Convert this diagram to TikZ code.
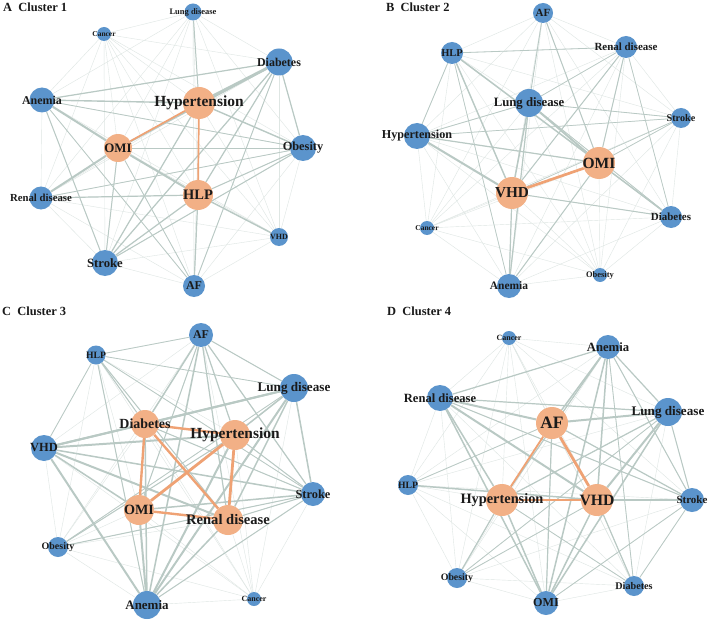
\documentclass[tikz,border=0pt]{standalone}
\usepackage{fontspec}
\setmainfont{Liberation Serif}
\pgfdeclarelayer{background}
\pgfsetlayers{background,main}
\definecolor{blu}{HTML}{5B94CC}
\definecolor{org}{HTML}{F2B086}
\definecolor{orge}{HTML}{EFA274}
\definecolor{edg}{HTML}{B9C9C4}
\definecolor{fnt}{HTML}{DEE6E3}
\definecolor{txt}{HTML}{1A1A1A}
\tikzset{
  dot/.style={circle, draw=none, inner sep=0pt},
  faint/.style={draw=fnt, line width=0.4pt},
  wedge/.style={draw=edg},
  oedge/.style={draw=orge},
  ttl/.style={font=\bfseries\fontsize{12.5}{13}\selectfont, text=txt, anchor=west, inner sep=0pt}
}
\newcommand\nd[7]{%
  \node[dot, fill=#5, minimum size=2*#4 bp] (#1) at (#2,#3) {};
  \node[font=\bfseries\fontsize{#6}{#6}\selectfont, text=txt, inner sep=0pt] at (#2,#3) {#7};}
\newcommand\allpairs[1]{%
  \foreach \u [count=\i] in {#1}{\foreach \v [count=\j] in {#1}{\ifnum\j>\i \draw[faint] (\u)--(\v);\fi}}}
\begin{document}
\begin{tikzpicture}[x=1bp,y=-1bp]
\useasboundingbox (0,0) rectangle (709,622);
% titles
\node[ttl] (tA) at (3,7) {A\ \ Cluster 1};
\node[ttl] (tB) at (386,7) {B\ \ Cluster 2};
\node[ttl] (tC) at (2,311) {C\ \ Cluster 3};
\node[ttl] (tD) at (387,311) {D\ \ Cluster 4};
% ---------------- Panel A
\nd{aLung}{193}{12}{8.5}{blu}{8.5}{Lung disease}
\nd{aCan}{104}{34}{7}{blu}{7.5}{Cancer}
\nd{aDia}{279}{62}{13.5}{blu}{12}{Diabetes}
\nd{aAne}{42}{100}{12.5}{blu}{12}{Anemia}
\nd{aHyp}{199}{103}{16}{org}{15.5}{Hypertension}
\nd{aOMI}{118}{148}{14}{org}{13}{OMI}
\nd{aObe}{303}{148}{13}{blu}{12.4}{Obesity}
\nd{aHLP}{198}{195}{15}{org}{14.5}{HLP}
\nd{aRen}{41}{198}{11.5}{blu}{10.8}{Renal disease}
\nd{aVHD}{279}{237}{9}{blu}{8}{VHD}
\nd{aStr}{105}{263}{13}{blu}{12.7}{Stroke}
\nd{aAF}{194}{286}{11}{blu}{12}{AF}
% ---------------- Panel B
\nd{bAF}{543}{13}{10}{blu}{11}{AF}
\nd{bHLP}{452}{53}{11}{blu}{10.5}{HLP}
\nd{bRen}{626}{47}{11}{blu}{11}{Renal disease}
\nd{bLung}{529}{103}{14}{blu}{12.8}{Lung disease}
\nd{bStr}{681}{118}{10}{blu}{10.2}{Stroke}
\nd{bHyp}{417}{136}{13}{blu}{12.2}{Hypertension}
\nd{bOMI}{599}{163}{16}{org}{15.6}{OMI}
\nd{bVHD}{512}{193}{16}{org}{15.3}{VHD}
\nd{bDia}{671}{217}{11}{blu}{11}{Diabetes}
\nd{bCan}{427}{228}{7}{blu}{7.5}{Cancer}
\nd{bObe}{600}{275}{7}{blu}{8.5}{Obesity}
\nd{bAne}{509}{286}{12}{blu}{11.5}{Anemia}
% ---------------- Panel C
\nd{cAF}{201}{335}{12}{blu}{12}{AF}
\nd{cHLP}{96}{355}{9.5}{blu}{9.7}{HLP}
\nd{cLung}{294}{388}{14}{blu}{13.2}{Lung disease}
\nd{cDia}{145}{424}{14}{org}{14}{Diabetes}
\nd{cHyp}{235}{435}{15}{org}{15.5}{Hypertension}
\nd{cVHD}{44}{448}{13}{blu}{12.5}{VHD}
\nd{cStr}{313}{494}{12}{blu}{12.4}{Stroke}
\nd{cOMI}{139}{510}{15}{org}{14.2}{OMI}
\nd{cRen}{228}{520}{15}{org}{14.6}{Renal disease}
\nd{cObe}{58}{547}{10}{blu}{10}{Obesity}
\nd{cAne}{147}{605}{14}{blu}{13}{Anemia}
\nd{cCan}{254}{599}{7}{blu}{8}{Cancer}
% ---------------- Panel D
\nd{dCan}{509}{338}{7}{blu}{8}{Cancer}
\nd{dAne}{608}{347}{12}{blu}{12.7}{Anemia}
\nd{dRen}{440}{398}{13}{blu}{12.6}{Renal disease}
\nd{dLung}{668}{412}{14}{blu}{13.2}{Lung disease}
\nd{dAF}{552}{423}{16}{org}{17.5}{AF}
\nd{dHLP}{408}{485}{10}{blu}{9.7}{HLP}
\nd{dHyp}{502}{500}{16}{org}{14.4}{Hypertension}
\nd{dVHD}{597}{500}{16}{org}{15.8}{VHD}
\nd{dStr}{692}{500}{12}{blu}{11}{Stroke}
\nd{dObe}{457}{578}{10}{blu}{9.9}{Obesity}
\nd{dDia}{634}{586}{10}{blu}{10.2}{Diabetes}
\nd{dOMI}{546}{603}{12}{blu}{12.2}{OMI}
\begin{pgfonlayer}{background}
\fill[white] (0,0) rectangle (709,622);
\allpairs{aLung,aCan,aDia,aAne,aHyp,aOMI,aObe,aHLP,aRen,aVHD,aStr,aAF}
\allpairs{bAF,bHLP,bRen,bLung,bStr,bHyp,bOMI,bVHD,bDia,bCan,bObe,bAne}
\allpairs{cAF,cHLP,cLung,cDia,cHyp,cVHD,cStr,cOMI,cRen,cObe,cAne,cCan}
\allpairs{dCan,dAne,dRen,dLung,dAF,dHLP,dHyp,dVHD,dStr,dObe,dDia,dOMI}
% weighted gray edges
\foreach \a/\b/\w in {aHyp/aDia/2.8, aOMI/aDia/2.0, aAne/aOMI/2.0, aOMI/aHLP/2.0, aOMI/aRen/2.0,
  aHyp/aObe/1.4, aAne/aHyp/1.4, aAne/aDia/1.2, aDia/aObe/1.2, aDia/aStr/1.2, aDia/aHLP/1.2,
  aHyp/aStr/1.2, aHLP/aStr/1.2, aHLP/aVHD/1.4, aHLP/aAF/1.2, aHLP/aRen/1.2, aHLP/aObe/1.0,
  aOMI/aObe/1.0, aStr/aOMI/1.0, aAne/aStr/1.0, aAne/aObe/0.8, aStr/aObe/1.0, aLung/aHyp/1.0,
  aDia/aAF/0.9, aAne/aAF/0.8, aOMI/aAF/0.8, aRen/aObe/0.8,
  bLung/bOMI/2.0, bHLP/bOMI/1.5, bHLP/bVHD/1.4, bHyp/bVHD/2.0, bHyp/bOMI/1.2, bLung/bVHD/1.5,
  bOMI/bDia/1.5, bLung/bAne/1.2, bVHD/bAne/1.2, bVHD/bDia/1.0, bOMI/bAne/1.0, bRen/bOMI/1.0,
  bRen/bVHD/1.0, bAF/bOMI/1.0, bAF/bLung/0.8, bHLP/bRen/0.8, bHLP/bHyp/0.8, bLung/bStr/0.8,
  bStr/bOMI/0.7, bHyp/bLung/0.8, bHyp/bStr/0.7, bRen/bLung/0.7, bRen/bDia/0.7, bHLP/bAne/0.7,
  bStr/bVHD/0.6, bLung/bDia/0.8,
  cVHD/cLung/2.0, cVHD/cHyp/2.0, cVHD/cDia/2.0, cVHD/cRen/2.0, cVHD/cStr/1.5, cVHD/cAne/2.0,
  cVHD/cOMI/1.5, cLung/cDia/2.0, cLung/cAne/2.0, cLung/cOMI/1.5, cLung/cStr/1.5, cLung/cRen/1.5,
  cAF/cDia/1.5, cAF/cHyp/1.2, cAF/cOMI/1.0, cAF/cAne/1.5, cAF/cRen/1.2, cAF/cStr/1.2, cAF/cLung/1.0,
  cHLP/cRen/1.0, cHLP/cDia/1.0, cHLP/cAne/1.0, cHLP/cLung/0.8, cStr/cOMI/1.5, cStr/cAne/1.0,
  cStr/cHyp/1.0, cAne/cOMI/2.0, cAne/cHyp/2.0, cAne/cDia/1.5, cAne/cRen/1.5, cObe/cHyp/1.0,
  cObe/cStr/1.0, cObe/cLung/0.8, cHLP/cStr/0.8, cHLP/cAF/0.8, cHLP/cVHD/0.8, cStr/cDia/1.0, cStr/cRen/1.0,
  dRen/dAF/2.0, dRen/dVHD/2.0, dRen/dHyp/1.5, dRen/dOMI/1.5, dRen/dLung/1.2, dRen/dAne/1.2,
  dAne/dAF/1.5, dAne/dVHD/1.5, dAne/dHyp/1.2, dAne/dOMI/1.5, dAne/dLung/1.2, dAne/dStr/1.0,
  dLung/dAF/2.0, dLung/dVHD/2.0, dLung/dHyp/1.2, dLung/dOMI/1.5, dLung/dStr/1.0, dVHD/dStr/2.5,
  dAF/dStr/1.2, dAF/dOMI/1.2, dHLP/dVHD/1.5, dHLP/dAF/0.8, dHyp/dOMI/1.5, dVHD/dOMI/1.5,
  dVHD/dDia/1.2, dHyp/dObe/1.2, dHyp/dDia/0.8, dObe/dVHD/0.8, dOMI/dStr/0.8, dDia/dStr/0.8,
  dRen/dStr/1.0, dLung/dObe/0.8, dAne/dDia/0.8}
  {\draw[wedge, line width=\w pt] (\a) -- (\b);}
% orange edges
\foreach \a/\b/\w in {aHyp/aOMI/1.7, aHyp/aHLP/1.7, bVHD/bOMI/2.7,
  cDia/cHyp/2.4, cDia/cOMI/2.4, cDia/cRen/2.4, cHyp/cOMI/2.8, cHyp/cRen/2.8, cOMI/cRen/2.4,
  dAF/dHyp/1.8, dAF/dVHD/2.8, dHyp/dVHD/2.8}
  {\draw[oedge, line width=\w pt] (\a) -- (\b);}
\end{pgfonlayer}
\end{tikzpicture}
\end{document}
